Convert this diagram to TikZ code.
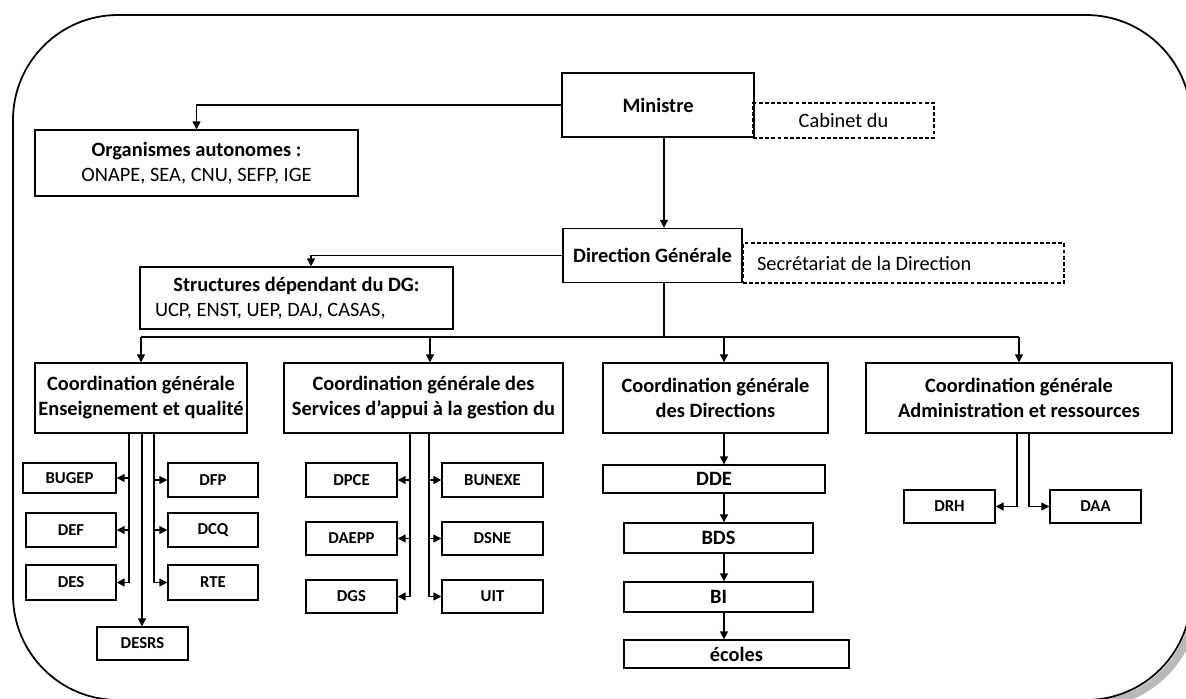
\documentclass[tikz,border=0pt]{standalone}
\usepackage{fontspec}
\setmainfont{Carlito}
\usetikzlibrary{arrows.meta}

\begin{document}
\begin{tikzpicture}[x=0.02cm, y=-0.02cm, line width=0.7pt,
    >={Triangle[length=4.5pt,width=4.5pt]},
    box/.style={draw, line width=0.8pt, inner sep=0pt, align=center, font=\bfseries\fontsize{11.6}{14.2}\selectfont},
    dbox/.style={draw, line width=0.8pt, dash pattern=on 2.2pt off 1.3pt, inner sep=0pt, font=\fontsize{11.6}{14.2}\selectfont},
    sbox/.style={draw, line width=0.8pt, inner sep=0pt, minimum width=1.82cm, minimum height=0.66cm, font=\bfseries\fontsize{9.5}{11}\selectfont}]

    \useasboundingbox (0,0) rectangle (1186,698);
    \clip (0,0) rectangle (1186,698);
    \draw[gray!55, line width=4.5pt, rounded corners=2.1cm] (1195,420) -- (1195,704) -- (900,704);
    \draw[line width=1pt, rounded corners=2.1cm] (13,15) rectangle (1191,700);

    \node[box, minimum width=3.84cm, minimum height=1.28cm] (min) at (658,105) {Ministre};
    \node[dbox, minimum width=3.62cm, minimum height=0.70cm] (cab) at (843.5,120.5) {Cabinet du};
    \node[box, minimum width=6.46cm, minimum height=1.32cm] (org) at (196.5,163) {Organismes autonomes :\\\mdseries ONAPE, SEA, CNU, SEFP, IGE};
    \node[box, minimum width=3.58cm, minimum height=1.08cm] (dg) at (652.5,255.5) {Direction Générale};
    \node[dbox, minimum width=6.42cm, minimum height=0.80cm] (sec) at (903.5,263) {\raisebox{-0.1cm}{\makebox[5.86cm][l]{Secrétariat de la Direction}}};
    \node[box, minimum width=6.26cm, minimum height=1.24cm] (struct) at (296.5,298) {Structures dépendant du DG:\\\makebox[5.66cm][l]{\mdseries UCP, ENST, UEP, DAJ, CASAS,}};

    \node[box, minimum width=4.24cm, minimum height=1.40cm] (cg1) at (141,398) {Coordination générale\\Enseignement et qualité};
    \node[box, minimum width=5.58cm, minimum height=1.40cm] (cg2) at (423.5,398) {Coordination générale des\\Services d’appui à la gestion du};
    \node[box, minimum width=4.50cm, minimum height=1.40cm] (cg3) at (715.5,398) {Coordination générale\\des Directions};
    \node[box, minimum width=6.12cm, minimum height=1.40cm] (cg4) at (1019,398) {Coordination générale\\Administration et ressources};

    \node[sbox, minimum width=1.86cm, minimum height=0.60cm] (bugep) at (69.5,478) {BUGEP};
    \node[sbox, minimum width=1.80cm, minimum height=0.68cm] (def) at (71,530) {DEF};
    \node[sbox, minimum width=1.80cm, minimum height=0.70cm] (des) at (71,582.5) {DES};
    \node[sbox, minimum width=1.80cm, minimum height=0.68cm] (dfp) at (213,480) {DFP};
    \node[sbox, minimum width=1.80cm, minimum height=0.68cm] (dcq) at (213,530) {DCQ};
    \node[sbox, minimum width=1.80cm, minimum height=0.70cm] (rte) at (213,582.5) {RTE};
    \node[sbox] (desrs) at (142.5,643.5) {DESRS};

    \node[sbox, minimum height=0.68cm] (dpce) at (351.5,480) {DPCE};
    \node[sbox] (daepp) at (351.5,538.5) {DAEPP};
    \node[sbox] (dgs) at (351.5,596.5) {DGS};
    \node[sbox, minimum width=2.02cm, minimum height=0.68cm] (bunexe) at (492.5,480) {BUNEXE};
    \node[sbox, minimum width=2.02cm] (dsne) at (492.5,538.5) {DSNE};
    \node[sbox, minimum width=2.02cm] (uit) at (492.5,596.5) {UIT};

    \node[box, minimum width=4.44cm, minimum height=0.56cm] (dde) at (714,479) {DDE};
    \node[box, minimum width=3.78cm, minimum height=0.60cm] (bds) at (718.5,538) {BDS};
    \node[box, minimum width=3.78cm, minimum height=0.60cm] (bi) at (718.5,597) {BI};
    \node[box, minimum width=4.50cm, minimum height=0.56cm] (ecoles) at (736.5,654) {écoles};

    \node[sbox] (drh) at (949.5,506.5) {DRH};
    \node[sbox] (daa) at (1095.5,506.5) {DAA};

    \coordinate (trunk) at (664,0);
    \coordinate (bus) at (0,337);
    \coordinate (sx) at (311,0);
    \coordinate (c2x) at (430,0);
    \coordinate (c3x) at (724,0);
    \coordinate (la) at (129,0);
    \coordinate (lm) at (142,0);
    \coordinate (lr) at (154,0);
    \coordinate (l2) at (410,0);
    \coordinate (r2) at (429,0);
    \coordinate (l4) at (1017,0);
    \coordinate (r4) at (1029,0);

    \draw[->] (min.west) -| (org.north);
    \draw[->] (min.south -| trunk) -- (dg.north -| trunk);
    \draw[->] (dg.west) -| (sx |- struct.north);
    \draw (dg.south -| trunk) -- (trunk |- bus);
    \draw (cg1.north |- bus) -- (cg4.north |- bus);
    \draw[->] (cg1.north |- bus) -- (cg1.north);
    \draw[->] (c2x |- bus) -- (c2x |- cg2.north);
    \draw[->] (c3x |- bus) -- (c3x |- cg3.north);
    \draw[->] (cg4.north |- bus) -- (cg4.north);

    \draw (la |- cg1.south) -- (la |- des.east);
    \foreach \n in {bugep,def,des} \draw[->] (la |- \n.east) -- (\n.east);
    \draw (lr |- cg1.south) -- (lr |- rte.west);
    \foreach \n in {dfp,dcq,rte} \draw[->] (lr |- \n.west) -- (\n.west);
    \draw[->] (lm |- cg1.south) -- (lm |- desrs.north);

    \draw (l2 |- cg2.south) -- (l2 |- dgs.east);
    \foreach \n in {dpce,daepp,dgs} \draw[->] (l2 |- \n.east) -- (\n.east);
    \draw (r2 |- cg2.south) -- (r2 |- uit.west);
    \foreach \n in {bunexe,dsne,uit} \draw[->] (r2 |- \n.west) -- (\n.west);

    \draw[->] (c3x |- cg3.south) -- (c3x |- dde.north);
    \draw[->] (c3x |- dde.south) -- (c3x |- bds.north);
    \draw[->] (c3x |- bds.south) -- (c3x |- bi.north);
    \draw[->] (c3x |- bi.south) -- (c3x |- ecoles.north);

    \draw[->] (l4 |- cg4.south) |- (drh.east);
    \draw[->] (r4 |- cg4.south) |- (daa.west);
\end{tikzpicture}
\end{document}
